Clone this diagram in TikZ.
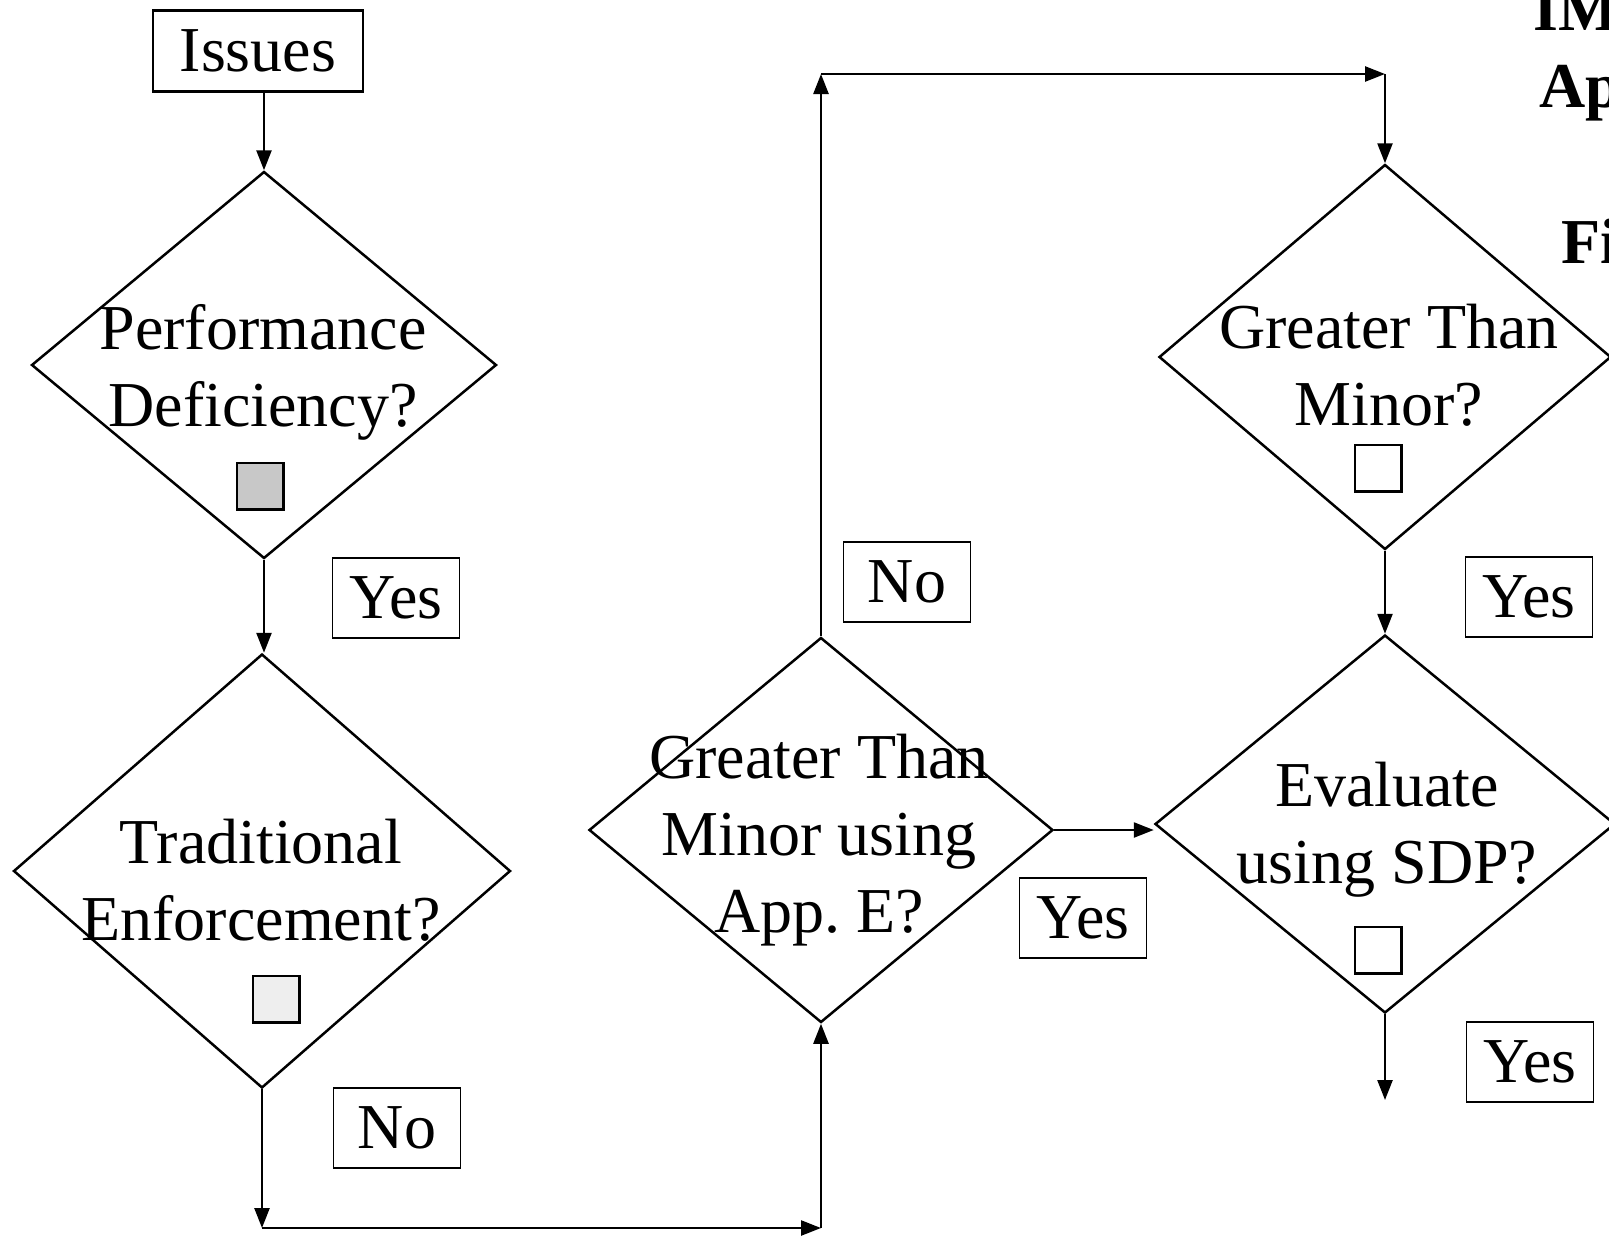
\documentclass[tikz,border=0pt]{standalone}
\usepackage{fontspec}
\setmainfont{Liberation Serif}
\usepackage{tikz}
\usetikzlibrary{shapes.geometric,arrows.meta}
\tikzset{every picture/.append style={font=\fontsize{64}{77}\selectfont}}
\definecolor{tickgray}{HTML}{C8C8C8}
\definecolor{ticklight}{HTML}{EEEEEE}

\begin{document}
\begin{tikzpicture}[x=1pt,y=-1pt,line width=2.5pt,
    decision/.style={draw,diamond,inner sep=0pt},
    answer/.style={draw,line width=1.8pt,minimum width=127pt,minimum height=80pt,inner sep=0pt},
    tickbox/.style={draw,line width=1.2pt,minimum size=46pt,inner sep=0pt},
    arr/.style={-{Triangle[length=20pt,width=15pt]}}]
    \useasboundingbox (0,0) rectangle (1609,1235);
    % left column
    \node[draw,minimum width=210pt,minimum height=81pt,inner sep=0pt] (issues) at (258,51) {Issues};
    \node[decision,minimum width=465pt,minimum height=387pt] (perf) at (264,365) {};
    \node[align=center,inner sep=0pt] (perf-t) at (263,372) {Performance\\Deficiency?};
    \node[tickbox,fill=tickgray] (perf-b) at (260,486) {};
    \node[answer] (yes-a) at (396,598) {Yes};
    \node[decision,minimum width=497pt,minimum height=434pt] (trad) at (262,871) {};
    \node[align=center,inner sep=0pt] (trad-t) at (261,880) {Traditional\\Enforcement?};
    \node[tickbox,fill=ticklight] (trad-b) at (276,999) {};
    \node[answer] (no-a) at (397,1128) {No};
    % middle
    \node[decision,minimum width=464pt,minimum height=385pt] (appe) at (821,830) {};
    \node[align=center,inner sep=0pt] (appe-t) at (819,840) {Greater Than\\Minor using\\App.\ E?};
    \node[answer] (no-b) at (907,582) {No};
    \node[answer] (yes-b) at (1083,918) {Yes};
    % right column
    \node[decision,minimum width=452pt,minimum height=385pt] (minor) at (1385,357) {};
    \node[align=center,inner sep=0pt] (minor-t) at (1389,365) {Greater Than\\Minor?};
    \node[tickbox] (minor-b) at (1378,468) {};
    \node[answer] (yes-c) at (1529,597) {Yes};
    \node[decision,minimum width=460pt,minimum height=378pt] (sdp) at (1385,824) {};
    \node[align=center,inner sep=0pt] (sdp-t) at (1387,830) {Evaluate\\using SDP?};
    \node[tickbox] (sdp-b) at (1378,950) {};
    \node[answer] (yes-d) at (1530,1062) {Yes};
    \foreach \b in {perf-b,trad-b,minor-b,sdp-b}
      \draw[line width=3pt] (\b.north east) -- (\b.south east) -- (\b.south west);
    % heading, cut at the edge
    \node[anchor=base west,inner sep=0pt,font=\fontsize{64}{77}\selectfont\bfseries] (head-a) at (1532,30) {IM};
    \node[anchor=base west,inner sep=0pt,font=\fontsize{64}{77}\selectfont\bfseries] (head-b) at (1538,107) {Ap};
    \node[anchor=base west,inner sep=0pt,font=\fontsize{64}{77}\selectfont\bfseries] (head-c) at (1560,263) {Fi};
    % connectors
    \coordinate (low-l) at (trad.south |- 0,1228);
    \coordinate (low-r) at (appe.south |- 0,1228);
    \coordinate (top-l) at (appe.north |- 0,74);
    \coordinate (top-r) at (minor.north |- 0,74);
    \coordinate (out) at (sdp.south |- 0,1100);
    \draw[arr] (issues.south -| perf.north) -- (perf.north);
    \draw[arr] (perf.south) -- (perf.south |- trad.north);
    \draw[arr] (trad.south) -- (low-l);
    \draw[arr] (low-l) -- (low-r);
    \draw[arr] (low-r) -- (appe.south);
    \draw[arr] (appe.north) -- (top-l);
    \draw[arr] (top-l) -- (top-r);
    \draw[arr] (top-r) -- (minor.north);
    \draw[arr] (minor.south) -- (sdp.north);
    \draw[arr] (appe.east) -- (appe.east -| sdp.west);
    \draw[arr] (sdp.south) -- (out);
  \end{tikzpicture}
\end{document}
